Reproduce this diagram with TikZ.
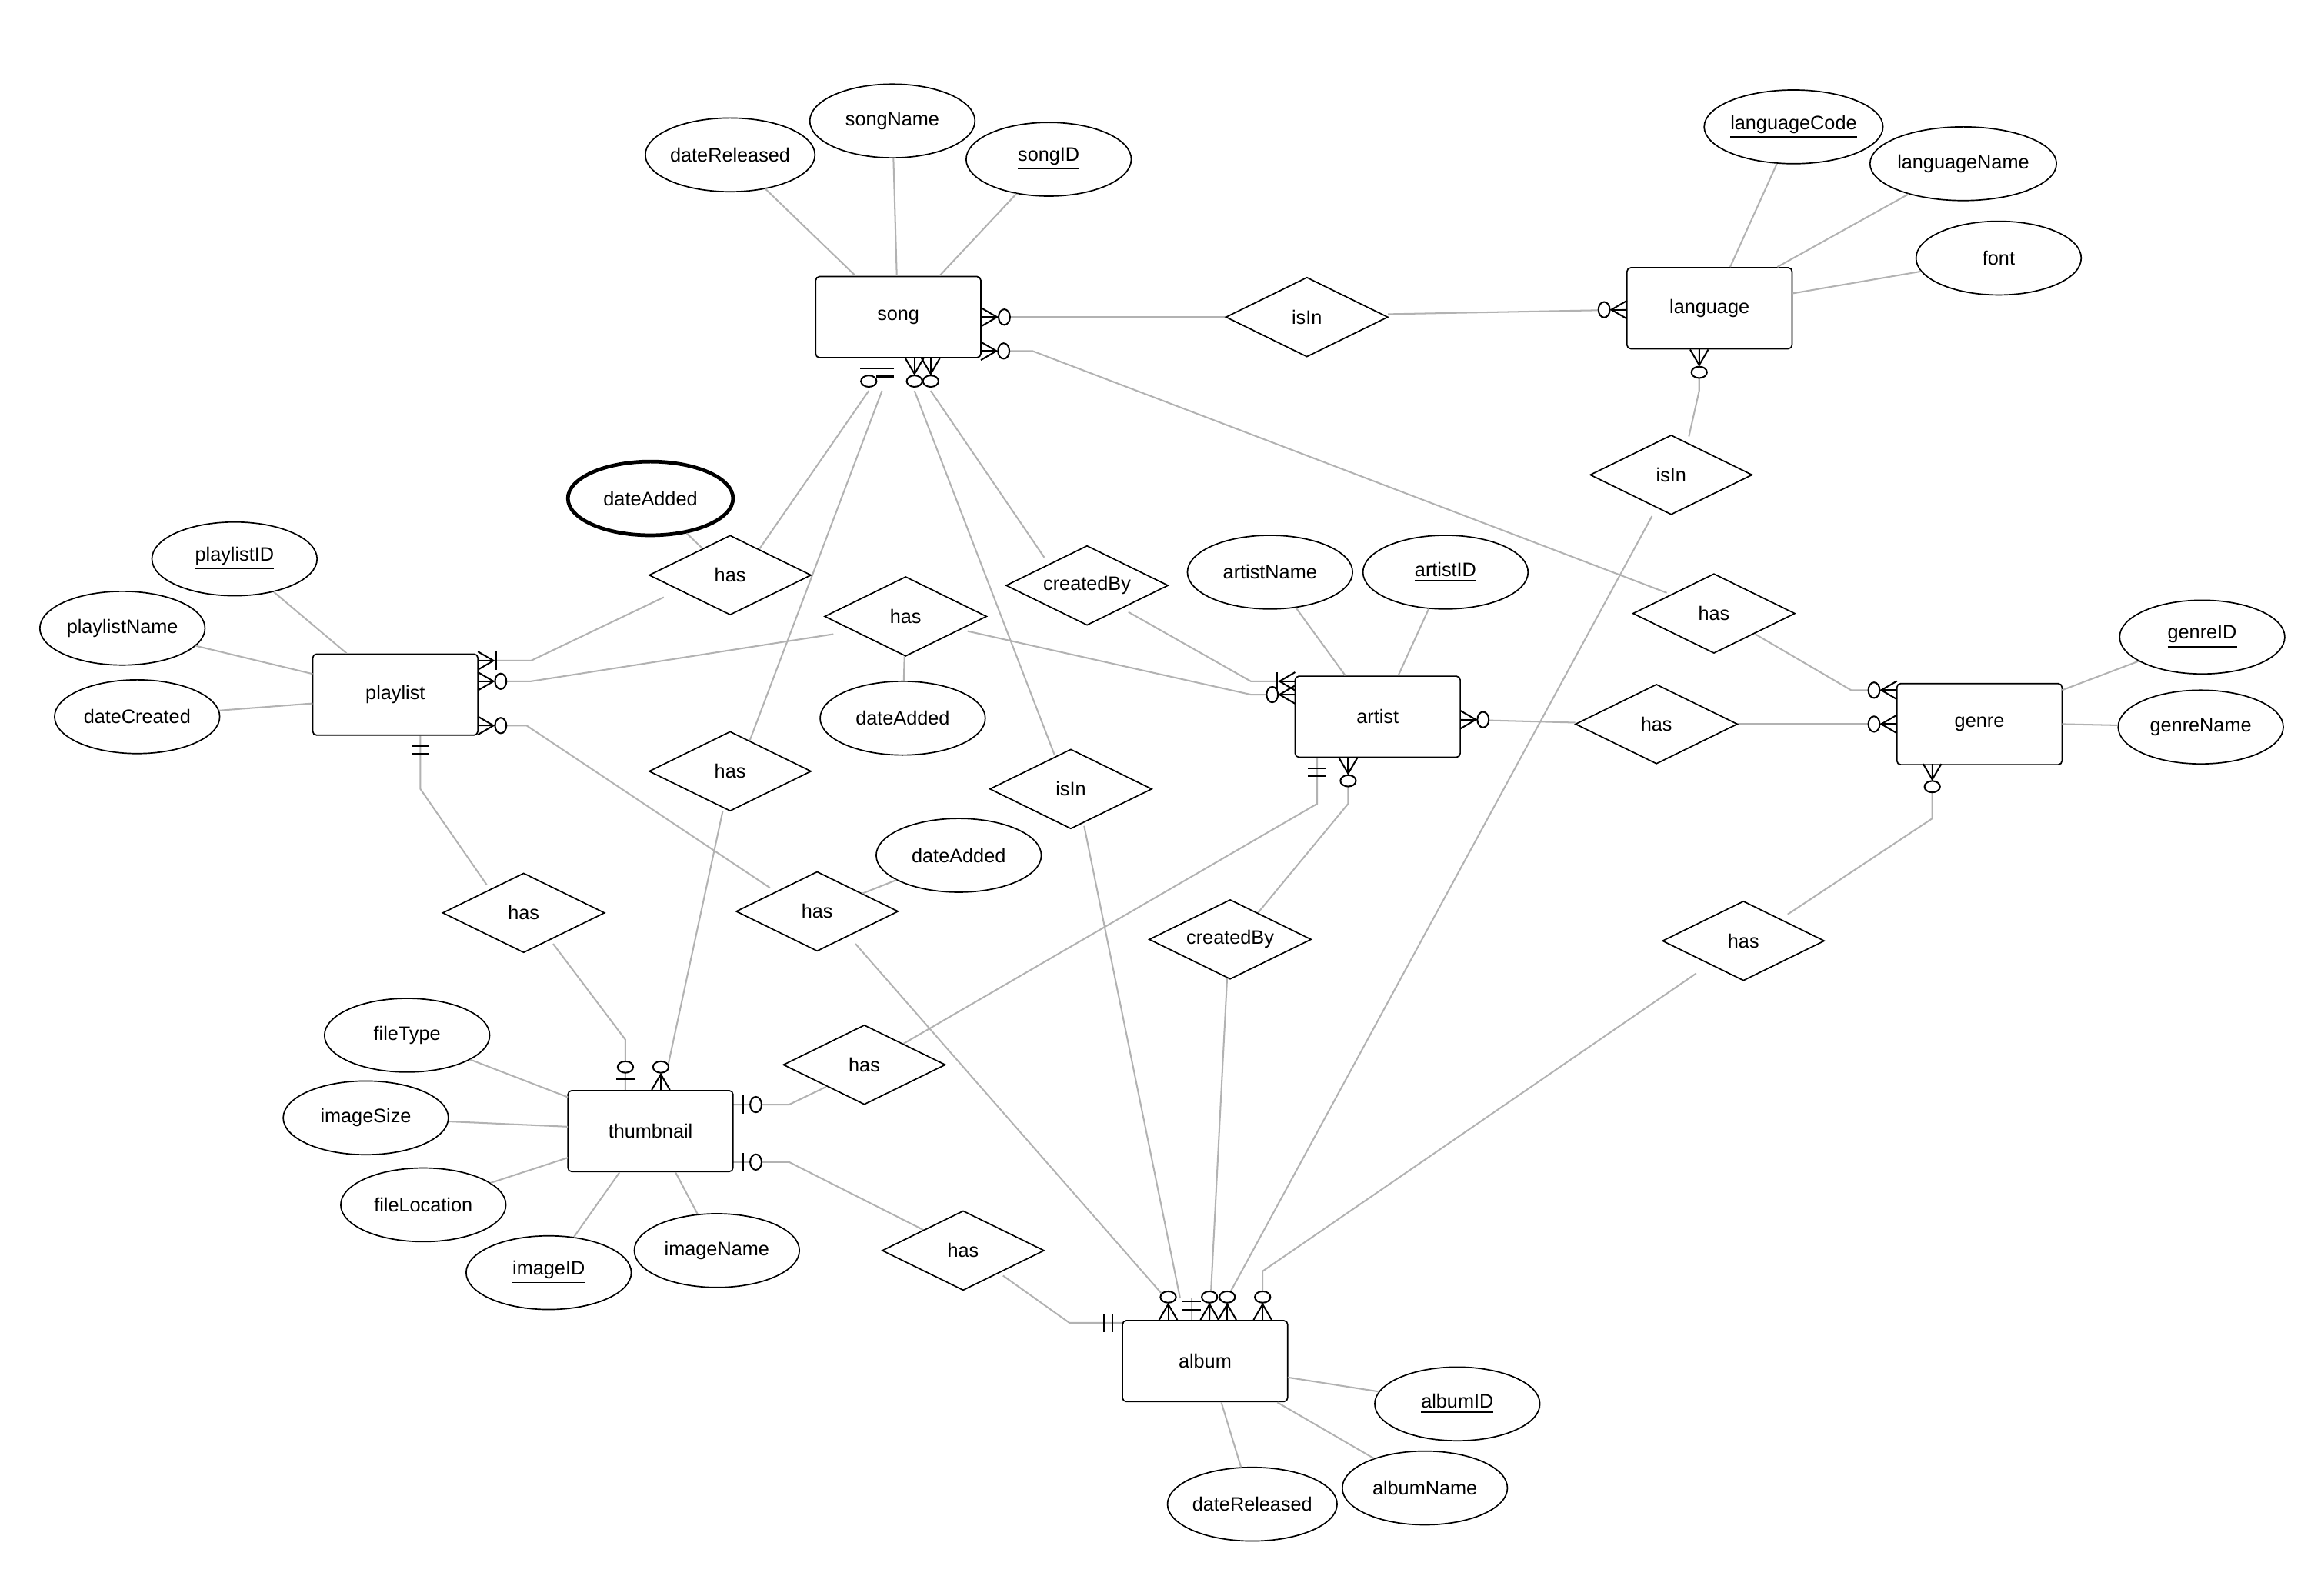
\documentclass[tikz,border=0pt]{standalone}
\usepackage{fontspec}
\setmainfont{Liberation Sans}
\usetikzlibrary{shapes.geometric}
\begin{document}
\begin{tikzpicture}[x=0.02cm,y=-0.02cm,
  every node/.style={font=\fontsize{7.5}{9}\selectfont},
  ent/.style={draw,rounded corners=1.5pt,minimum width=2.24cm,minimum height=1.1cm,fill=white,line width=0.5pt},
  att/.style={draw,ellipse,minimum width=2.24cm,minimum height=1.0cm,inner sep=0pt,fill=white,line width=0.5pt},
  rel/.style={draw,diamond,aspect=2,minimum width=2.2cm,minimum height=1.08cm,inner sep=0pt,fill=white,line width=0.5pt},
  ln/.style={draw=black!30,line width=0.6pt},
  mk/.style={line width=0.6pt}]
\useasboundingbox (0,0) rectangle (1560,1082);
\fill[white] (0,0) rectangle (1560,1082);
% markers
\newcommand{\mkcrow}{\draw[mk] (0pt,3.5pt)--(6pt,0pt)--(0pt,-3.5pt);\draw[mk](0pt,0pt)--(6pt,0pt);}
\newcommand{\mkcirc}{\draw[mk,fill=white] (8.8pt,0pt) ellipse (2.2pt and 3pt);}
\newcommand{\mo}[2]{\begin{scope}[shift={#1},rotate=#2]\mkcrow\mkcirc\end{scope}}
\newcommand{\mm}[2]{\begin{scope}[shift={#1},rotate=#2]\mkcrow\draw[mk](7pt,3.5pt)--(7pt,-3.5pt);\end{scope}}
\newcommand{\om}[2]{\begin{scope}[shift={#1},rotate=#2]\draw[mk](4pt,3.5pt)--(4pt,-3.5pt)(7pt,3.5pt)--(7pt,-3.5pt);\end{scope}}
\newcommand{\oo}[2]{\begin{scope}[shift={#1},rotate=#2]\draw[mk](4pt,3.5pt)--(4pt,-3.5pt);\mkcirc\end{scope}}
% relationship lines
\draw[ln] (665,215)--(831,215);
\draw[ln] (941,213)--(1103,210);
\draw[ln] (665,238)--(700,238)--(1130,402);
\draw[ln] (1190,430)--(1255,468)--(1286,468);
\draw[ln] (589,265)--(515,372);
\draw[ln] (598,265)--(508,503);
\draw[ln] (490,550)--(453,722);
\draw[ln] (620,265)--(715,512);
\draw[ln] (735,560)--(800,880);
\draw[ln] (631,265)--(708,378);
\draw[ln] (765,415)--(848,462)--(878,462);
\draw[ln] (325,448)--(360,448)--(450,405);
\draw[ln] (325,462)--(360,462)--(565,430);
\draw[ln] (656,428)--(848,471)--(878,471);
\draw[ln] (325,492)--(357,492)--(522,602);
\draw[ln] (580,640)--(790,880);
\draw[ln] (285,499)--(285,535)--(330,600);
\draw[ln] (375,640)--(424,705)--(424,739);
\draw[ln] (497,749)--(535,749)--(560,737);
\draw[ln] (612,708)--(893,545)--(893,514);
\draw[ln] (497,788)--(535,788)--(628,835);
\draw[ln] (680,865)--(725,897)--(761,897);
\draw[ln] (990,488)--(1068,490);
\draw[ln] (1178,491)--(1286,491);
\draw[ln] (914,514)--(914,545)--(852,620);
\draw[ln] (832,662)--(820,895);
\draw[ln] (1310,518)--(1310,555)--(1212,620);
\draw[ln] (1150,660)--(856,862)--(856,895);
\draw[ln] (1152,237)--(1152,265)--(1145,296);
\draw[ln] (1120,350)--(832,880)--(832,895);
\draw[ln] (792,895)--(792,880);\draw[ln](808,895)--(808,880);\draw[ln](820,895)--(820,880);
% entities
\node[ent] (song) at (609,215) {song};
\node[ent] (language) at (1159,209) {language};
\node[ent] (playlist) at (268,471) {playlist};
\node[ent] (artist) at (934,486) {artist};
\node[ent] (genre) at (1342,491) {genre};
\node[ent] (thumb) at (441,767) {thumbnail};
\node[ent] (album) at (817,923) {album};
% relationships
\node[rel] (r1) at (886,215) {isIn};
\node[rel] (r2) at (1133,322) {isIn};
\node[rel] (r3) at (495,390) {has};
\node[rel] (r4) at (614,418) {has};
\node[rel] (r5) at (737,397) {createdBy};
\node[rel] (r6) at (1162,416) {has};
\node[rel] (r7) at (1123,491) {has};
\node[rel] (r8) at (495,523) {has};
\node[rel] (r9) at (726,535) {isIn};
\node[rel] (r10) at (355,619) {has};
\node[rel] (r11) at (554,618) {has};
\node[rel] (r12) at (834,637) {createdBy};
\node[rel] (r13) at (1182,638) {has};
\node[rel] (r14) at (586,722) {has};
\node[rel] (r15) at (653,848) {has};
% attributes
\node[att] (a1) at (495,105) {dateReleased};
\node[att] (a2) at (605,82) {songName};
\node[att] (a3) at (711,108) {\underline{songID}};
\node[att] (a4) at (1216,86) {\underline{languageCode}};
\node[att] (a5) at (1331,111) {languageName};
\node[att] (a6) at (1355,175) {font};
\node[att,line width=1.4pt] (a7) at (441,338) {dateAdded};
\node[att] (a8) at (159,379) {\underline{playlistID}};
\node[att] (a9) at (83,426) {playlistName};
\node[att] (a10) at (93,486) {dateCreated};
\node[att] (a11) at (861,388) {artistName};
\node[att] (a12) at (980,388) {\underline{artistID}};
\node[att] (a13) at (612,487) {dateAdded};
\node[att] (a14) at (1493,432) {\underline{genreID}};
\node[att] (a15) at (1492,493) {genreName};
\node[att] (a16) at (650,580) {dateAdded};
\node[att] (a17) at (276,702) {fileType};
\node[att] (a18) at (248,758) {imageSize};
\node[att] (a19) at (287,817) {fileLocation};
\node[att] (a20) at (372,863) {\underline{imageID}};
\node[att] (a21) at (486,848) {imageName};
\node[att] (a22) at (988,952) {\underline{albumID}};
\node[att] (a23) at (966,1009) {albumName};
\node[att] (a24) at (849,1020) {dateReleased};
% attribute lines
\draw[ln] (a1) -- (580,187);
\draw[ln] (a2) -- (608,187);
\draw[ln] (a3) -- (637,187);
\draw[ln] (a4) -- (1173,181);
\draw[ln] (a5) -- (1205,181);
\draw[ln] (a6) -- (1215,199);
\draw[ln] (a7) -- (r3);
\draw[ln] (a8) -- (235,443);
\draw[ln] (a9) -- (212,457);
\draw[ln] (a10) -- (212,477);
\draw[ln] (a11) -- (912,458);
\draw[ln] (a12) -- (948,458);
\draw[ln] (a13) -- (r4);
\draw[ln] (a14) -- (1398,468);
\draw[ln] (a15) -- (1398,491);
\draw[ln] (a16) -- (r11);
\draw[ln] (a17) -- (385,744);
\draw[ln] (a18) -- (385,764);
\draw[ln] (a19) -- (385,785);
\draw[ln] (a20) -- (420,795);
\draw[ln] (a21) -- (458,795);
\draw[ln] (a22) -- (873,934);
\draw[ln] (a23) -- (866,951);
\draw[ln] (a24) -- (828,951);
% markers
\mo{(song.east)}{0}
\mo{(665,238)}{0}
\mo{(1103,210)}{180}
\mo{(1152,237)}{270}
\oo{(589,243)}{270}
\om{(600,243)}{270}
\mo{(620,243)}{270}
\mo{(631,243)}{270}
\mm{(324,448)}{0}
\mo{(324,462)}{0}
\mo{(324,492)}{0}
\om{(285,499)}{270}
\oo{(424,739)}{90}
\mo{(448,739)}{90}
\oo{(497,749)}{0}
\oo{(497,788)}{0}
\mm{(878,462)}{180}
\mo{(878,471)}{180}
\mo{(990,488)}{0}
\om{(893,514)}{270}
\mo{(914,514)}{270}
\mo{(1286,468)}{180}
\mo{(1286,491)}{180}
\mo{(1310,518)}{270}
\om{(761,897)}{180}
\mo{(792,895)}{90}
\om{(808,895)}{90}
\mo{(820,895)}{90}
\mo{(832,895)}{90}
\mo{(856,895)}{90}
\end{tikzpicture}
\end{document}
